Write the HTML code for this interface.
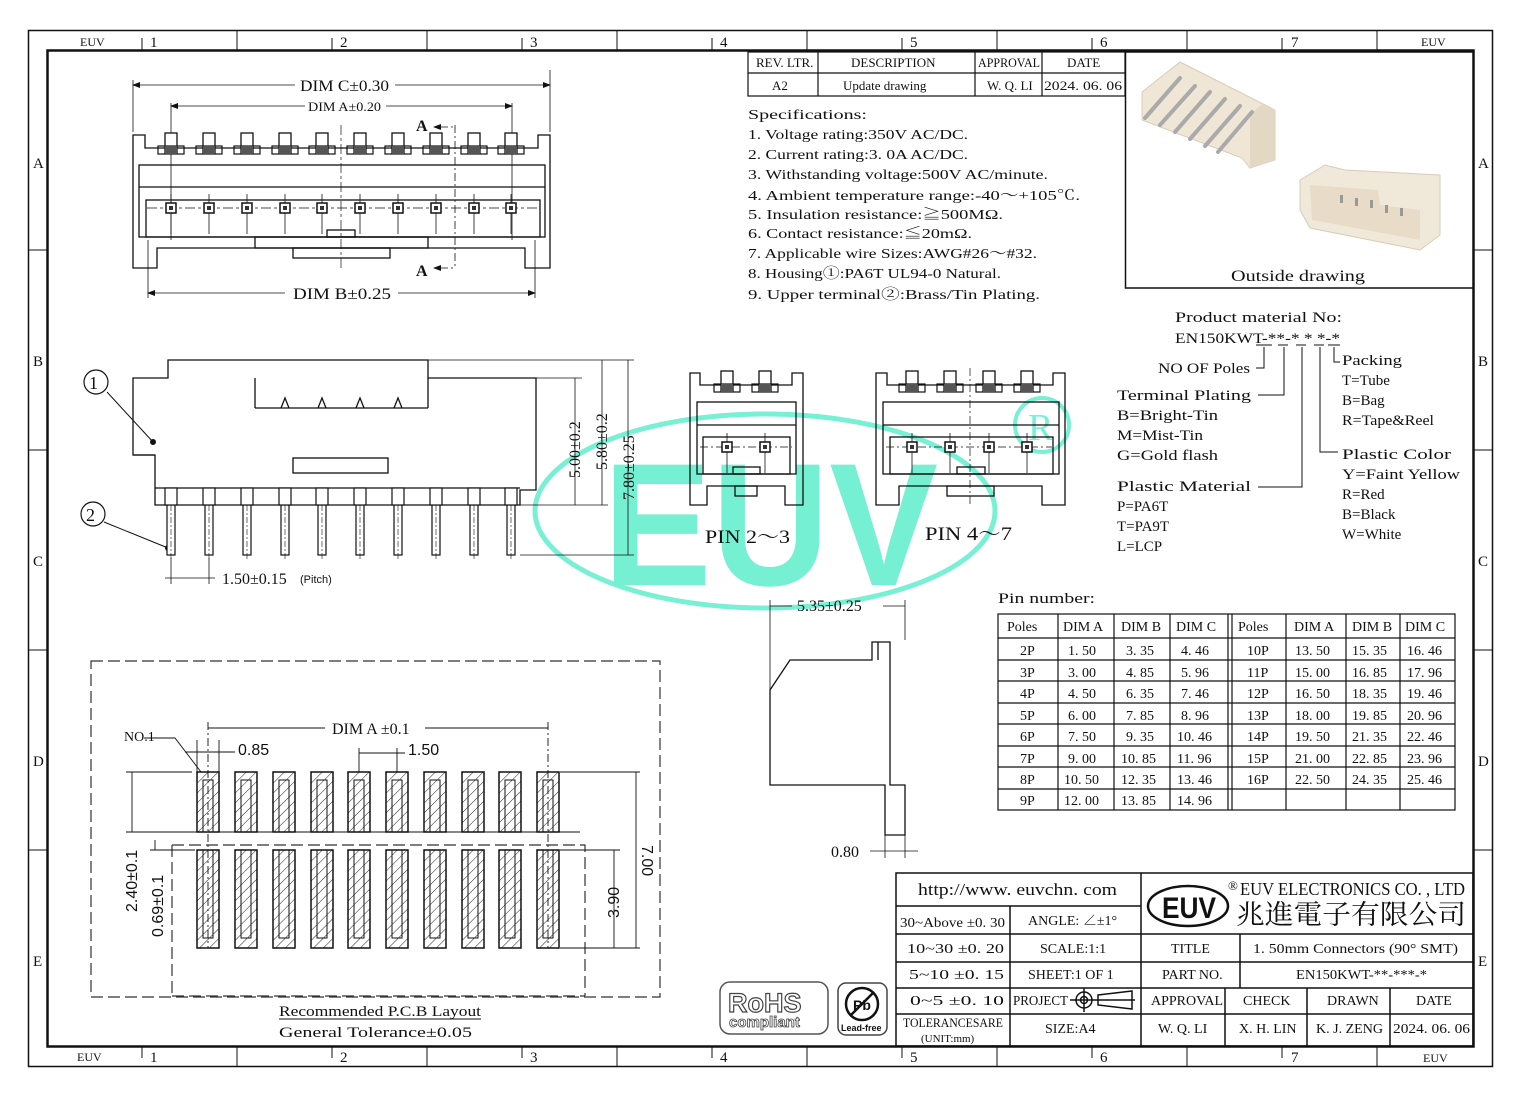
<!DOCTYPE html>
<html><head><meta charset="utf-8"><style>
html,body{margin:0;padding:0;background:#fff}
svg{display:block}
text{font-family:"Liberation Serif","Noto Serif CJK SC",serif;fill:#111}
.s{font-family:"Liberation Sans",sans-serif}
</style></head><body>
<svg width="1520" height="1096" viewBox="0 0 1520 1096" xmlns="http://www.w3.org/2000/svg">
<defs>
<pattern id="h" width="7" height="7" patternUnits="userSpaceOnUse" patternTransform="rotate(45)"><line x1="0" y1="0" x2="0" y2="7" stroke="#222" stroke-width="1"/></pattern>
<g id="term"><rect x="-6" y="0" width="12" height="20" fill="#fff" stroke="#111" stroke-width="1.3"/><rect x="-13" y="13" width="26" height="8" fill="none" stroke="#111" stroke-width="1.2"/><rect x="-6" y="13" width="12" height="8" fill="#555"/></g>
<g id="ct"><line x1="0" y1="-14" x2="0" y2="26" stroke="#111" stroke-width="0.8"/><rect x="-5" y="-5" width="10" height="10" fill="#fff" stroke="#111" stroke-width="1.5"/><rect x="-2" y="-2" width="4" height="4" fill="#333"/></g>
<g id="pin"><rect x="-4" y="0" width="8" height="50" fill="#fff" stroke="#111" stroke-width="1.2"/><line x1="0" y1="0" x2="0" y2="55" stroke="#111" stroke-width="0.6" stroke-dasharray="6 2 2 2"/></g>
<g id="pad"><rect x="-11" y="0" width="22" height="60" fill="url(#h)" stroke="#111" stroke-width="1.5"/><rect x="-5" y="8" width="10" height="52" fill="none" stroke="#111" stroke-width="1"/></g>
<g id="pad2"><rect x="-11" y="0" width="22" height="98" fill="url(#h)" stroke="#111" stroke-width="1.5"/><rect x="-5" y="0" width="10" height="88" fill="none" stroke="#111" stroke-width="1"/></g>
</defs>

<!-- watermark (behind) -->
<ellipse cx="765" cy="511" rx="230" ry="97" fill="none" stroke="#77f0d4" stroke-width="5"/>
<text x="603" y="585" font-size="175" font-weight="bold" class="s" style="fill:#76f0d2" textLength="335" lengthAdjust="spacingAndGlyphs">EUV</text>
<circle cx="1042" cy="425" r="27" fill="none" stroke="#77f0d4" stroke-width="4"/>
<text x="1028" y="440" font-size="38" style="fill:#77f0d4">R</text>

<!-- frame -->
<rect x="28.5" y="30.5" width="1464" height="1036" fill="none" stroke="#111" stroke-width="1.5"/>
<rect x="47.5" y="50.5" width="1426" height="996" fill="none" stroke="#111" stroke-width="2.5"/>
<g stroke="#111" stroke-width="1">
<line x1="237" y1="30" x2="237" y2="50"/><line x1="427" y1="30" x2="427" y2="50"/><line x1="617" y1="30" x2="617" y2="50"/><line x1="807" y1="30" x2="807" y2="50"/><line x1="997" y1="30" x2="997" y2="50"/><line x1="1187" y1="30" x2="1187" y2="50"/><line x1="1377" y1="30" x2="1377" y2="50"/>
<line x1="237" y1="1046" x2="237" y2="1066"/><line x1="427" y1="1046" x2="427" y2="1066"/><line x1="617" y1="1046" x2="617" y2="1066"/><line x1="807" y1="1046" x2="807" y2="1066"/><line x1="997" y1="1046" x2="997" y2="1066"/><line x1="1187" y1="1046" x2="1187" y2="1066"/><line x1="1377" y1="1046" x2="1377" y2="1066"/>
<line x1="142" y1="38" x2="142" y2="50"/><line x1="332" y1="38" x2="332" y2="50"/><line x1="522" y1="38" x2="522" y2="50"/><line x1="712" y1="38" x2="712" y2="50"/><line x1="902" y1="38" x2="902" y2="50"/><line x1="1092" y1="38" x2="1092" y2="50"/><line x1="1282" y1="38" x2="1282" y2="50"/>
<line x1="142" y1="1046" x2="142" y2="1058"/><line x1="332" y1="1046" x2="332" y2="1058"/><line x1="522" y1="1046" x2="522" y2="1058"/><line x1="712" y1="1046" x2="712" y2="1058"/><line x1="902" y1="1046" x2="902" y2="1058"/><line x1="1092" y1="1046" x2="1092" y2="1058"/><line x1="1282" y1="1046" x2="1282" y2="1058"/>
<line x1="28" y1="250" x2="47" y2="250"/><line x1="28" y1="450" x2="47" y2="450"/><line x1="28" y1="650" x2="47" y2="650"/><line x1="28" y1="850" x2="47" y2="850"/>
<line x1="1473" y1="250" x2="1492" y2="250"/><line x1="1473" y1="450" x2="1492" y2="450"/><line x1="1473" y1="650" x2="1492" y2="650"/><line x1="1473" y1="850" x2="1492" y2="850"/>
</g>
<g font-size="15">
<text x="150" y="47">1</text><text x="340" y="47">2</text><text x="530" y="47">3</text><text x="720" y="47">4</text><text x="910" y="47">5</text><text x="1100" y="47">6</text><text x="1291" y="47">7</text>
<text x="150" y="1062">1</text><text x="340" y="1062">2</text><text x="530" y="1062">3</text><text x="720" y="1062">4</text><text x="910" y="1062">5</text><text x="1100" y="1062">6</text><text x="1291" y="1062">7</text>
<text x="33" y="168">A</text><text x="33" y="366">B</text><text x="33" y="566">C</text><text x="33" y="766">D</text><text x="33" y="966">E</text>
<text x="1478" y="168">A</text><text x="1478" y="366">B</text><text x="1478" y="566">C</text><text x="1478" y="766">D</text><text x="1478" y="966">E</text>
</g>
<g font-size="12"><text x="80" y="46">EUV</text><text x="1421" y="46">EUV</text><text x="77" y="1061">EUV</text><text x="1423" y="1062">EUV</text></g>

<!-- top view -->
<g stroke="#111" fill="none" stroke-width="1.3">
<line x1="133" y1="80" x2="133" y2="132" stroke-width="0.8"/><line x1="550" y1="70" x2="550" y2="132" stroke-width="0.8"/>
<line x1="133" y1="85" x2="295" y2="85" stroke-width="0.8"/><line x1="395" y1="85" x2="550" y2="85" stroke-width="0.8"/>
<line x1="171" y1="103" x2="171" y2="240" stroke-width="0.8"/><line x1="512" y1="103" x2="512" y2="240" stroke-width="0.8"/>
<line x1="171" y1="106" x2="305" y2="106" stroke-width="0.8"/><line x1="386" y1="106" x2="512" y2="106" stroke-width="0.8"/>
<line x1="148" y1="240" x2="148" y2="298" stroke-width="0.8"/><line x1="535" y1="240" x2="535" y2="298" stroke-width="0.8"/>
<line x1="148" y1="293" x2="285" y2="293" stroke-width="0.8"/><line x1="398" y1="293" x2="535" y2="293" stroke-width="0.8"/>
<path d="M133,268 V135 H145 V148 H538 V135 H550 V268 H525 V248 H157 V268 Z"/>
<rect x="139" y="165" width="406" height="72"/><line x1="139" y1="187" x2="545" y2="187"/>
<rect x="146" y="200" width="394" height="37"/>
<rect x="255" y="237" width="173" height="11"/><rect x="293" y="248" width="97" height="10"/><rect x="327" y="230" width="28" height="7"/>
<line x1="147" y1="208" x2="540" y2="208" stroke-width="0.7" stroke-dasharray="10 3 3 3"/>
<line x1="341" y1="125" x2="341" y2="270" stroke-width="0.7" stroke-dasharray="10 3 3 3"/>
<path d="M455,125 V268 M440,127 H455 M440,268 H455" stroke-width="0.8" stroke-dasharray="8 3 2 3"/>
</g>
<g fill="#111"><path d="M132,85 l8,-3 v6z M551,85 l-8,-3 v6z M170,106 l8,-3 v6z M513,106 l-8,-3 v6z M147,293 l8,-3 v6z M536,293 l-8,-3 v6z M433,127 l8,-3 v6z M433,268 l8,-3 v6z"/></g>
<g><use href="#term" x="171" y="133"/><use href="#term" x="209" y="133"/><use href="#term" x="247" y="133"/><use href="#term" x="285" y="133"/><use href="#term" x="322" y="133"/><use href="#term" x="360" y="133"/><use href="#term" x="398" y="133"/><use href="#term" x="436" y="133"/><use href="#term" x="474" y="133"/><use href="#term" x="511" y="133"/>
<use href="#ct" x="171" y="208"/><use href="#ct" x="209" y="208"/><use href="#ct" x="247" y="208"/><use href="#ct" x="285" y="208"/><use href="#ct" x="322" y="208"/><use href="#ct" x="360" y="208"/><use href="#ct" x="398" y="208"/><use href="#ct" x="436" y="208"/><use href="#ct" x="474" y="208"/><use href="#ct" x="511" y="208"/></g>
<text x="300" y="91" font-size="16" textLength="89" lengthAdjust="spacingAndGlyphs">DIM  C±0.30</text>
<text x="308" y="111" font-size="13" textLength="73" lengthAdjust="spacingAndGlyphs">DIM  A±0.20</text>
<text x="293" y="299" font-size="16" textLength="98" lengthAdjust="spacingAndGlyphs">DIM  B±0.25</text>
<text x="416" y="131" font-size="16" font-weight="bold">A</text><text x="416" y="276" font-size="16" font-weight="bold">A</text>

<!-- rev table -->
<g stroke="#111" fill="none" stroke-width="1.2"><rect x="748" y="52" width="377" height="44"/><line x1="748" y1="73" x2="1125" y2="73"/><line x1="818" y1="52" x2="818" y2="96"/><line x1="975" y1="52" x2="975" y2="96"/><line x1="1042" y1="52" x2="1042" y2="96"/></g>
<g font-size="13"><text x="756" y="67">REV. LTR.</text><text x="851" y="67">DESCRIPTION</text><text x="978" y="67" textLength="62" lengthAdjust="spacingAndGlyphs">APPROVAL</text><text x="1067" y="67">DATE</text>
<text x="772" y="90">A2</text><text x="843" y="90">Update drawing</text><text x="987" y="90">W. Q. LI</text><text x="1044" y="90" textLength="78" lengthAdjust="spacingAndGlyphs">2024. 06. 06</text></g>
<g font-size="14"><text x="748" y="119" textLength="119" lengthAdjust="spacingAndGlyphs">Specifications:</text>
<text x="748" y="139" textLength="220" lengthAdjust="spacingAndGlyphs">1. Voltage rating:350V AC/DC.</text>
<text x="748" y="159" textLength="220" lengthAdjust="spacingAndGlyphs">2. Current rating:3. 0A AC/DC.</text>
<text x="748" y="179" textLength="300" lengthAdjust="spacingAndGlyphs">3. Withstanding voltage:500V AC/minute.</text>
<text x="748" y="200" textLength="332" lengthAdjust="spacingAndGlyphs">4. Ambient temperature range:-40～+105℃.</text>
<text x="748" y="219" textLength="255" lengthAdjust="spacingAndGlyphs">5. Insulation resistance:≧500MΩ.</text>
<text x="748" y="238" textLength="224" lengthAdjust="spacingAndGlyphs">6. Contact resistance:≦20mΩ.</text>
<text x="748" y="258" textLength="289" lengthAdjust="spacingAndGlyphs">7. Applicable wire Sizes:AWG#26～#32.</text>
<text x="748" y="278" textLength="253" lengthAdjust="spacingAndGlyphs">8. Housing①:PA6T UL94-0 Natural.</text>
<text x="748" y="299" textLength="292" lengthAdjust="spacingAndGlyphs">9. Upper terminal②:Brass/Tin Plating.</text></g>

<!-- outside drawing -->
<rect x="1125.5" y="52" width="348" height="236" fill="none" stroke="#111" stroke-width="1.5"/>
<polygon points="1142,92 1180,62 1275,110 1275,160 1250,168 1242,158 1142,120" fill="#efe6d6" stroke="#d8ccb8"/>
<polygon points="1250,168 1275,160 1275,110 1262,104 1250,115" fill="#e3d8c4"/>
<g stroke="#aaa" stroke-width="4" stroke-linecap="round"><line x1="1145" y1="118" x2="1180" y2="78"/><line x1="1160" y1="125" x2="1195" y2="86"/><line x1="1175" y1="132" x2="1210" y2="92"/><line x1="1190" y1="139" x2="1225" y2="99"/><line x1="1205" y1="146" x2="1240" y2="106"/><line x1="1218" y1="152" x2="1252" y2="112"/></g>
<polygon points="1300,180 1325,165 1345,170 1440,175 1440,235 1420,250 1310,228 1300,210" fill="#f0e8d8" stroke="#d8ccb8"/>
<polygon points="1310,185 1378,190 1380,205 1420,210 1420,240 1312,220" fill="#e8dcc8"/>
<g fill="#999"><rect x="1340" y="195" width="3" height="8"/><rect x="1355" y="198" width="3" height="8"/><rect x="1370" y="200" width="3" height="8"/><rect x="1385" y="205" width="3" height="8"/><rect x="1400" y="208" width="3" height="8"/></g>
<text x="1231" y="281" font-size="16" textLength="134" lengthAdjust="spacingAndGlyphs">Outside drawing</text>

<!-- product material -->
<g font-size="15"><text x="1175" y="322" textLength="167" lengthAdjust="spacingAndGlyphs">Product material No:</text><text x="1175" y="343" textLength="165" lengthAdjust="spacingAndGlyphs">EN150KWT-**-* * *-*</text>
<text x="1158" y="373" textLength="92" lengthAdjust="spacingAndGlyphs">NO OF Poles</text><text x="1117" y="400" textLength="134" lengthAdjust="spacingAndGlyphs">Terminal Plating</text><text x="1117" y="420" textLength="101" lengthAdjust="spacingAndGlyphs">B=Bright-Tin</text><text x="1117" y="440" textLength="86" lengthAdjust="spacingAndGlyphs">M=Mist-Tin</text><text x="1117" y="460" textLength="101" lengthAdjust="spacingAndGlyphs">G=Gold flash</text>
<text x="1117" y="491" textLength="134" lengthAdjust="spacingAndGlyphs">Plastic Material</text><text x="1117" y="511">P=PA6T</text><text x="1117" y="531">T=PA9T</text><text x="1117" y="551">L=LCP</text>
<text x="1342" y="365" textLength="60" lengthAdjust="spacingAndGlyphs">Packing</text><text x="1342" y="385">T=Tube</text><text x="1342" y="405">B=Bag</text><text x="1342" y="425" textLength="92" lengthAdjust="spacingAndGlyphs">R=Tape&amp;Reel</text>
<text x="1342" y="459" textLength="109" lengthAdjust="spacingAndGlyphs">Plastic Color</text><text x="1342" y="479" textLength="118" lengthAdjust="spacingAndGlyphs">Y=Faint Yellow</text><text x="1342" y="499">R=Red</text><text x="1342" y="519">B=Black</text><text x="1342" y="539">W=White</text></g>
<g stroke="#111" fill="none" stroke-width="1"><path d="M1264,347 V368 H1256"/><path d="M1284,347 V395 H1258"/><path d="M1302,347 V487 H1258"/><path d="M1320,347 V452 H1338"/><path d="M1334,347 V362 H1340"/><line x1="1256" y1="345" x2="1272" y2="345"/><line x1="1278" y1="345" x2="1288" y2="345"/><line x1="1296" y1="345" x2="1306" y2="345"/><line x1="1314" y1="345" x2="1324" y2="345"/><line x1="1328" y1="345" x2="1340" y2="345"/></g>

<!-- side view -->
<g stroke="#111" fill="none" stroke-width="1.3">
<path d="M133,455 V378 H168 V360 H428 V378 H536 V490 H520 V505 H155 V455 Z"/>
<line x1="255" y1="378" x2="255" y2="408"/><line x1="255" y1="408" x2="428" y2="408"/><line x1="428" y1="378" x2="428" y2="408"/>
<path d="M281,408 l4,-10 l4,10 M318,408 l4,-10 l4,10 M356,408 l4,-10 l4,10 M394,408 l4,-10 l4,10"/>
<rect x="293" y="458" width="95" height="15"/><line x1="133" y1="455" x2="155" y2="455"/><line x1="155" y1="488" x2="520" y2="488"/>
<line x1="536" y1="378" x2="582" y2="378" stroke-width="0.8"/><line x1="428" y1="360" x2="634" y2="360" stroke-width="0.8"/><line x1="520" y1="505" x2="608" y2="505" stroke-width="0.8"/><line x1="520" y1="555" x2="634" y2="555" stroke-width="0.8"/>
<line x1="575" y1="378" x2="575" y2="505" stroke-width="0.8"/><line x1="602" y1="360" x2="602" y2="505" stroke-width="0.8"/><line x1="628" y1="360" x2="628" y2="555" stroke-width="0.8"/>
<line x1="107" y1="392" x2="153" y2="442" stroke-width="1"/><line x1="104" y1="522" x2="168" y2="548" stroke-width="1"/>
<circle cx="96" cy="382" r="12" stroke-width="1.2"/><circle cx="93" cy="514" r="12" stroke-width="1.2"/>
<line x1="171" y1="558" x2="171" y2="584" stroke-width="0.8"/><line x1="209" y1="558" x2="209" y2="584" stroke-width="0.8"/><line x1="165" y1="578" x2="215" y2="578" stroke-width="0.8"/>
</g>
<circle cx="153" cy="442" r="3" fill="#111"/><circle cx="168" cy="548" r="3" fill="#111"/>
<text x="89" y="389" font-size="18">1</text><text x="86" y="521" font-size="18">2</text>
<g><use href="#pin" x="171" y="505"/><use href="#pin" x="209" y="505"/><use href="#pin" x="247" y="505"/><use href="#pin" x="285" y="505"/><use href="#pin" x="322" y="505"/><use href="#pin" x="360" y="505"/><use href="#pin" x="398" y="505"/><use href="#pin" x="436" y="505"/><use href="#pin" x="474" y="505"/><use href="#pin" x="511" y="505"/></g>
<g fill="#fff" stroke="#111" stroke-width="1.2"><rect x="165" y="488" width="12" height="17"/><rect x="203" y="488" width="12" height="17"/><rect x="241" y="488" width="12" height="17"/><rect x="279" y="488" width="12" height="17"/><rect x="316" y="488" width="12" height="17"/><rect x="354" y="488" width="12" height="17"/><rect x="392" y="488" width="12" height="17"/><rect x="430" y="488" width="12" height="17"/><rect x="468" y="488" width="12" height="17"/><rect x="505" y="488" width="12" height="17"/></g>
<text x="222" y="584" font-size="16">1.50±0.15</text><text x="300" y="583" font-size="11" class="s">(Pitch)</text>
<text transform="translate(580,478) rotate(-90)" font-size="16">5.00±0.2</text>
<text transform="translate(607,470) rotate(-90)" font-size="16">5.80±0.2</text>
<text transform="translate(634,500) rotate(-90)" font-size="16">7.80±0.25</text>

<!-- PIN 2~3 -->
<g stroke="#111" fill="none" stroke-width="1.3">
<path d="M690,505 V373 H700 V385 H792 V373 H803 V505 H785 V486 H707 V505 Z"/>
<rect x="697" y="402" width="99" height="72"/><line x1="697" y1="425" x2="796" y2="425"/><rect x="703" y="437" width="87" height="37"/>
<rect x="735" y="486" width="22" height="10"/><rect x="733" y="467" width="27" height="7"/>
<line x1="700" y1="447" x2="792" y2="447" stroke-width="0.7" stroke-dasharray="8 3 2 3"/>
</g>
<use href="#term" x="727" y="371"/><use href="#term" x="765" y="371"/><use href="#ct" x="727" y="447"/><use href="#ct" x="765" y="447"/>
<!-- PIN 4~7 -->
<g stroke="#111" fill="none" stroke-width="1.3">
<path d="M876,505 V373 H887 V385 H1053 V373 H1065 V505 H1042 V486 H899 V505 Z"/>
<rect x="883" y="402" width="176" height="72"/><line x1="883" y1="425" x2="1059" y2="425"/><rect x="890" y="437" width="163" height="37"/>
<rect x="947" y="486" width="47" height="10"/><rect x="957" y="467" width="28" height="7"/>
<line x1="886" y1="447" x2="1052" y2="447" stroke-width="0.7" stroke-dasharray="8 3 2 3"/>
<line x1="970" y1="368" x2="970" y2="505" stroke-width="0.7" stroke-dasharray="8 3 2 3"/>
</g>
<use href="#term" x="912" y="371"/><use href="#term" x="950" y="371"/><use href="#term" x="989" y="371"/><use href="#term" x="1027" y="371"/>
<use href="#ct" x="912" y="447"/><use href="#ct" x="950" y="447"/><use href="#ct" x="989" y="447"/><use href="#ct" x="1027" y="447"/>
<text x="705" y="543" font-size="19" textLength="85" lengthAdjust="spacingAndGlyphs">PIN  2～3</text><text x="925" y="540" font-size="19" textLength="87" lengthAdjust="spacingAndGlyphs">PIN  4～7</text>

<!-- side profile -->
<g stroke="#111" fill="none" stroke-width="1.3">
<path d="M790,660 H872 V642 H890 V785 H905 V835 H885 V785 H770 V690 Z"/>
<line x1="878" y1="642" x2="878" y2="660"/>
<line x1="770" y1="600" x2="770" y2="690" stroke-width="0.8"/><line x1="905" y1="600" x2="905" y2="640" stroke-width="0.8"/>
<line x1="770" y1="606" x2="792" y2="606" stroke-width="0.8"/><line x1="883" y1="606" x2="905" y2="606" stroke-width="0.8"/>
<line x1="885" y1="835" x2="885" y2="858" stroke-width="0.8"/><line x1="905" y1="835" x2="905" y2="858" stroke-width="0.8"/><line x1="870" y1="851" x2="918" y2="851" stroke-width="0.8"/>
</g>
<text x="797" y="611" font-size="16">5.35±0.25</text><text x="831" y="857" font-size="16">0.80</text>

<!-- pin table -->
<text x="998" y="603" font-size="15" textLength="97" lengthAdjust="spacingAndGlyphs">Pin number:</text>
<g stroke="#111" fill="none" stroke-width="1.2">
<rect x="998" y="614" width="457" height="196"/>
<line x1="1058" y1="614" x2="1058" y2="810"/><line x1="1114" y1="614" x2="1114" y2="810"/><line x1="1170" y1="614" x2="1170" y2="810"/><line x1="1228" y1="614" x2="1228" y2="810"/><line x1="1232" y1="614" x2="1232" y2="810"/><line x1="1286" y1="614" x2="1286" y2="810"/><line x1="1346" y1="614" x2="1346" y2="810"/><line x1="1400" y1="614" x2="1400" y2="810"/>
<line x1="998" y1="638" x2="1455" y2="638"/><line x1="998" y1="660" x2="1455" y2="660"/><line x1="998" y1="681" x2="1455" y2="681"/><line x1="998" y1="703" x2="1455" y2="703"/><line x1="998" y1="724" x2="1455" y2="724"/><line x1="998" y1="746" x2="1455" y2="746"/><line x1="998" y1="767" x2="1455" y2="767"/><line x1="998" y1="789" x2="1455" y2="789"/>
</g>
<g font-size="14">
<text x="1007" y="631">Poles</text><text x="1063" y="631">DIM A</text><text x="1121" y="631">DIM B</text><text x="1176" y="631">DIM C</text><text x="1238" y="631">Poles</text><text x="1294" y="631">DIM A</text><text x="1352" y="631">DIM B</text><text x="1405" y="631">DIM C</text>
<text x="1020" y="655">2P</text><text x="1068" y="655">1. 50</text><text x="1126" y="655">3. 35</text><text x="1181" y="655">4. 46</text><text x="1247" y="655">10P</text><text x="1295" y="655">13. 50</text><text x="1352" y="655">15. 35</text><text x="1407" y="655">16. 46</text>
<text x="1020" y="677">3P</text><text x="1068" y="677">3. 00</text><text x="1126" y="677">4. 85</text><text x="1181" y="677">5. 96</text><text x="1247" y="677">11P</text><text x="1295" y="677">15. 00</text><text x="1352" y="677">16. 85</text><text x="1407" y="677">17. 96</text>
<text x="1020" y="698">4P</text><text x="1068" y="698">4. 50</text><text x="1126" y="698">6. 35</text><text x="1181" y="698">7. 46</text><text x="1247" y="698">12P</text><text x="1295" y="698">16. 50</text><text x="1352" y="698">18. 35</text><text x="1407" y="698">19. 46</text>
<text x="1020" y="720">5P</text><text x="1068" y="720">6. 00</text><text x="1126" y="720">7. 85</text><text x="1181" y="720">8. 96</text><text x="1247" y="720">13P</text><text x="1295" y="720">18. 00</text><text x="1352" y="720">19. 85</text><text x="1407" y="720">20. 96</text>
<text x="1020" y="741">6P</text><text x="1068" y="741">7. 50</text><text x="1126" y="741">9. 35</text><text x="1177" y="741">10. 46</text><text x="1247" y="741">14P</text><text x="1295" y="741">19. 50</text><text x="1352" y="741">21. 35</text><text x="1407" y="741">22. 46</text>
<text x="1020" y="763">7P</text><text x="1068" y="763">9. 00</text><text x="1121" y="763">10. 85</text><text x="1177" y="763">11. 96</text><text x="1247" y="763">15P</text><text x="1295" y="763">21. 00</text><text x="1352" y="763">22. 85</text><text x="1407" y="763">23. 96</text>
<text x="1020" y="784">8P</text><text x="1064" y="784">10. 50</text><text x="1121" y="784">12. 35</text><text x="1177" y="784">13. 46</text><text x="1247" y="784">16P</text><text x="1295" y="784">22. 50</text><text x="1352" y="784">24. 35</text><text x="1407" y="784">25. 46</text>
<text x="1020" y="805">9P</text><text x="1064" y="805">12. 00</text><text x="1121" y="805">13. 85</text><text x="1177" y="805">14. 96</text>
</g>

<!-- PCB layout -->
<g stroke="#333" fill="none" stroke-width="1.2" stroke-dasharray="12 5">
<rect x="91" y="661" width="569" height="336"/><path d="M172,845 V996 M172,845 H585 V996 M172,996 H585"/>
</g>
<g>
<use href="#pad" x="208" y="772"/><use href="#pad" x="246" y="772"/><use href="#pad" x="284" y="772"/><use href="#pad" x="322" y="772"/><use href="#pad" x="359" y="772"/><use href="#pad" x="397" y="772"/><use href="#pad" x="435" y="772"/><use href="#pad" x="473" y="772"/><use href="#pad" x="510" y="772"/><use href="#pad" x="548" y="772"/>
<use href="#pad2" x="208" y="850"/><use href="#pad2" x="246" y="850"/><use href="#pad2" x="284" y="850"/><use href="#pad2" x="322" y="850"/><use href="#pad2" x="359" y="850"/><use href="#pad2" x="397" y="850"/><use href="#pad2" x="435" y="850"/><use href="#pad2" x="473" y="850"/><use href="#pad2" x="510" y="850"/><use href="#pad2" x="548" y="850"/>
</g>
<g stroke="#111" fill="none" stroke-width="0.9">
<line x1="208" y1="722" x2="208" y2="948" stroke-dasharray="8 3 2 3"/><line x1="548" y1="722" x2="548" y2="948" stroke-dasharray="8 3 2 3"/>
<line x1="208" y1="728" x2="325" y2="728"/><line x1="425" y1="728" x2="548" y2="728"/>
<line x1="197" y1="740" x2="197" y2="772"/><line x1="219" y1="740" x2="219" y2="772"/><line x1="185" y1="752" x2="235" y2="752"/>
<line x1="359" y1="748" x2="359" y2="772"/><line x1="397" y1="748" x2="397" y2="772"/><line x1="359" y1="753" x2="405" y2="753"/>
<path d="M144,738 H175 L201,772"/>
<line x1="126" y1="772" x2="192" y2="772"/><line x1="126" y1="832" x2="580" y2="832"/><line x1="132" y1="772" x2="132" y2="832"/>
<line x1="155" y1="840" x2="155" y2="850"/><line x1="150" y1="850" x2="195" y2="850"/>
<line x1="560" y1="772" x2="640" y2="772"/><line x1="560" y1="850" x2="620" y2="850"/><line x1="560" y1="948" x2="640" y2="948"/>
<line x1="614" y1="850" x2="614" y2="948"/><line x1="636" y1="772" x2="636" y2="948"/>
</g>
<g font-size="15">
<text x="124" y="741" font-size="14">NO.1</text><text x="238" y="755" class="s" font-size="16">0.85</text><text x="408" y="755" class="s" font-size="16">1.50</text>
<text x="332" y="734" font-size="16">DIM  A  ±0.1</text>
<text transform="translate(137,912) rotate(-90)" class="s" font-size="16">2.40±0.1</text>
<text transform="translate(163,937) rotate(-90)" class="s" font-size="16">0.69±0.1</text>
<text transform="translate(619,918) rotate(-90)" class="s" font-size="16">3.90</text>
<text transform="translate(642,845) rotate(90)" class="s" font-size="16">7.00</text>
<text x="279" y="1016" textLength="202" lengthAdjust="spacingAndGlyphs">Recommended P.C.B Layout</text><line x1="279" y1="1019" x2="481" y2="1019" stroke="#111"/>
<text x="279" y="1037" textLength="193" lengthAdjust="spacingAndGlyphs">General Tolerance±0.05</text>
</g>

<!-- RoHS -->
<rect x="720" y="982" width="108" height="52" rx="10" fill="none" stroke="#555" stroke-width="1.5"/>
<text x="728" y="1012" font-size="27" class="s" font-weight="bold" style="fill:#fff;stroke:#444;stroke-width:1.2">RoHS</text>
<text x="729" y="1027" font-size="15" class="s" font-weight="bold" style="fill:#fff;stroke:#444;stroke-width:0.8">compliant</text>
<rect x="838" y="983" width="49" height="52" rx="8" fill="none" stroke="#444" stroke-width="1.5"/>
<circle cx="862" cy="1004" r="16" fill="none" stroke="#111" stroke-width="2.5"/><line x1="851" y1="1015" x2="873" y2="993" stroke="#111" stroke-width="2.5"/>
<text x="853" y="1010" font-size="14" class="s" font-weight="bold">Pb</text>
<text x="841" y="1031" font-size="9" class="s" font-weight="bold">Lead-free</text>

<!-- title block -->
<g stroke="#111" fill="none" stroke-width="1.5">
<rect x="896" y="873" width="577" height="173"/>
<line x1="896" y1="906" x2="1141" y2="906"/><line x1="896" y1="934" x2="1473" y2="934"/><line x1="896" y1="962" x2="1473" y2="962"/><line x1="896" y1="988" x2="1473" y2="988"/><line x1="896" y1="1014" x2="1473" y2="1014"/>
<line x1="1141" y1="873" x2="1141" y2="1046"/><line x1="1010" y1="906" x2="1010" y2="1046"/><line x1="1240" y1="934" x2="1240" y2="988"/>
<line x1="1225" y1="988" x2="1225" y2="1046"/><line x1="1307" y1="988" x2="1307" y2="1046"/><line x1="1390" y1="988" x2="1390" y2="1046"/>
<ellipse cx="1188" cy="906" rx="40" ry="20" stroke-width="2.5"/>
<circle cx="1084" cy="1000" r="8"/><circle cx="1084" cy="1000" r="3.5"/><line x1="1070" y1="1000" x2="1135" y2="1000"/><line x1="1084" y1="988" x2="1084" y2="1012"/><path d="M1098,995 L1132,991 V1009 L1098,1005 Z"/>
</g>
<text x="1162" y="918" font-size="30" font-weight="bold" class="s" textLength="54" lengthAdjust="spacingAndGlyphs">EUV</text>
<text x="1228" y="890" font-size="13">®</text>
<text x="1240" y="895" font-size="18" textLength="225" lengthAdjust="spacingAndGlyphs">EUV ELECTRONICS CO. , LTD</text>
<text x="1236" y="924" font-size="27" textLength="230" lengthAdjust="spacingAndGlyphs" style="font-family:'Noto Serif CJK SC','Noto Sans CJK SC',serif">兆進電子有限公司</text>
<g font-size="14">
<text x="918" y="895" font-size="17" textLength="199" lengthAdjust="spacingAndGlyphs">http://www. euvchn. com</text>
<text x="900" y="927" textLength="105" lengthAdjust="spacingAndGlyphs">30~Above ±0. 30</text><text x="1028" y="925">ANGLE: ∠±1°</text>
<text x="907" y="953" textLength="97" lengthAdjust="spacingAndGlyphs">10~30    ±0. 20</text><text x="1040" y="953">SCALE:1:1</text><text x="1171" y="953">TITLE</text><text x="1253" y="953" textLength="205" lengthAdjust="spacingAndGlyphs">1. 50mm Connectors (90° SMT)</text>
<text x="909" y="979" textLength="95" lengthAdjust="spacingAndGlyphs">5~10     ±0. 15</text><text x="1028" y="979">SHEET:1 OF 1</text><text x="1162" y="979">PART NO.</text><text x="1296" y="979" textLength="131" lengthAdjust="spacingAndGlyphs">EN150KWT-**-***-*</text>
<text x="910" y="1005" textLength="94" lengthAdjust="spacingAndGlyphs">0~5      ±0. 10</text><text x="1013" y="1005" textLength="55" lengthAdjust="spacingAndGlyphs">PROJECT</text><text x="1151" y="1005">APPROVAL</text><text x="1243" y="1005">CHECK</text><text x="1327" y="1005">DRAWN</text><text x="1416" y="1005">DATE</text>
<text x="903" y="1027" font-size="13" textLength="100" lengthAdjust="spacingAndGlyphs">TOLERANCESARE</text><text x="921" y="1042" font-size="11">(UNIT:mm)</text>
<text x="1045" y="1033">SIZE:A4</text><text x="1158" y="1033">W. Q. LI</text><text x="1239" y="1033">X. H. LIN</text><text x="1316" y="1033" textLength="67" lengthAdjust="spacingAndGlyphs">K. J. ZENG</text><text x="1393" y="1033" textLength="77" lengthAdjust="spacingAndGlyphs">2024. 06. 06</text>
</g>
</svg>
</body></html>
